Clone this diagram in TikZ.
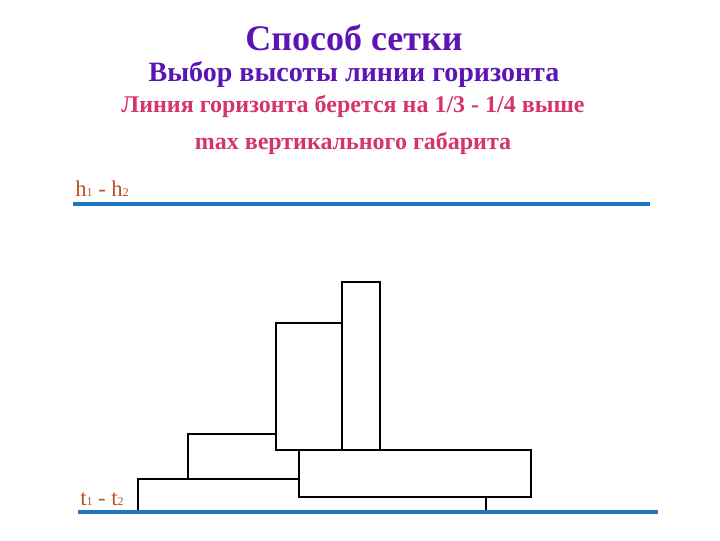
\documentclass[tikz,border=0pt]{standalone}
\usepackage{fontspec}
\setmainfont{Liberation Serif}
\usepackage{xcolor}
\usetikzlibrary{calc}
\definecolor{titleviolet}{RGB}{92,20,180}
\definecolor{notepink}{RGB}{214,52,112}
\definecolor{labelbrown}{RGB}{184,80,40}
\definecolor{lineblue}{RGB}{30,118,196}

\begin{document}
\begin{tikzpicture}[x=0.75pt,y=0.75pt,yscale=-1,xscale=1,
  block/.style={draw=black,fill=white,line width=2pt},
  horizon/.style={draw=lineblue,line width=2.3pt},
  lvl/.style={text=labelbrown,inner sep=0.75pt,font=\fontsize{17}{19}\selectfont}]
      \useasboundingbox (0,0) rectangle (720,540);
      % заголовки
      \draw (354,38) node [inner sep=0.75pt,text=titleviolet,font=\fontsize{27}{30}\selectfont\bfseries] (title) {Способ сетки};
      \draw (354,74) node [inner sep=0.75pt,text=titleviolet,font=\fontsize{21}{24}\selectfont\bfseries] (subtitle) {Выбор высоты линии горизонта};
      \draw (353,106) node [inner sep=0.75pt,text=notepink,font=\fontsize{18}{21}\selectfont\bfseries] (note1) {Линия горизонта берется на 1/3 - 1/4 выше};
      \draw (353,143) node [inner sep=0.75pt,text=notepink,font=\fontsize{18}{21}\selectfont\bfseries] (note2) {max вертикального габарита};
      % линия горизонта
      \draw [horizon] (73,204) -- (650,204);
      \draw (74,198) node [anchor=south west][lvl] (hlabel) {h{\fontsize{9}{10}\selectfont 1} - h{\fontsize{9}{10}\selectfont 2}};
      % блоки
      \draw [block] (138,479) rectangle (486,512);
      \draw [block] (188,434) rectangle (299,479);
      \draw [block] (276,323) rectangle (342,450);
      \draw [block] (299,450) rectangle (531,497);
      \draw [block] (342,282) rectangle (380,450);
      % линия земли
      \draw [horizon] (78,512) -- (658,512);
      \draw (79,507) node [anchor=south west][lvl] (tlabel) {t{\fontsize{9}{10}\selectfont 1} - t{\fontsize{9}{10}\selectfont 2}};
\end{tikzpicture}
\end{document}
